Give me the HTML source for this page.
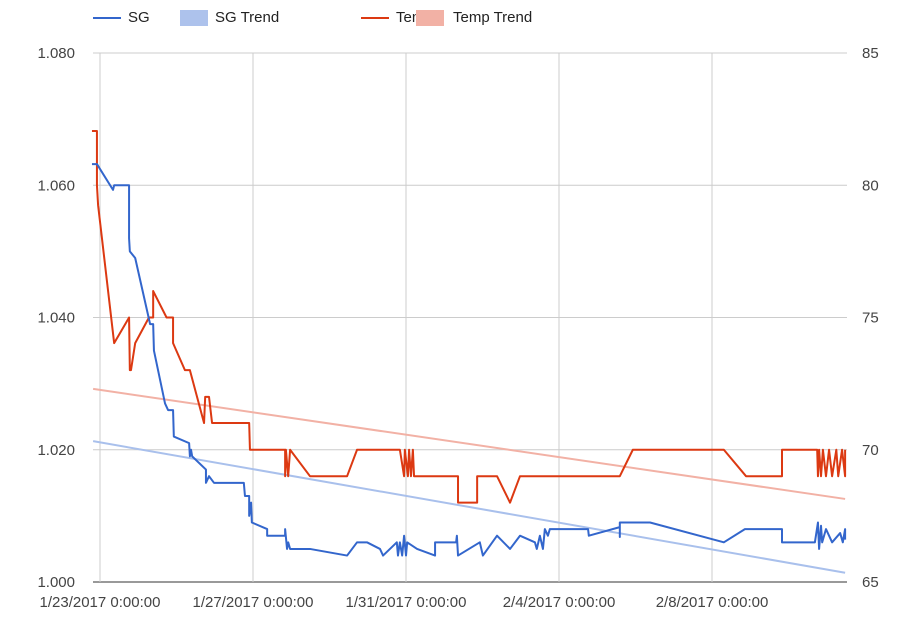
<!DOCTYPE html>
<html><head><meta charset="utf-8"><style>
body{margin:0;background:#fff;font-family:"Liberation Sans",Arial,sans-serif}
svg text{font-family:"Liberation Sans",Arial,sans-serif;fill:#444;font-size:15px}
</style></head><body>
<svg id="chart" width="902" height="625"></svg>
<script>
const xTickDays=[0,4,8,12,16];
const xTickLabels=["1/23/2017 0:00:00","1/27/2017 0:00:00","1/31/2017 0:00:00","2/4/2017 0:00:00","2/8/2017 0:00:00"];
const sgTicks=[1.000,1.020,1.040,1.060,1.080];
const tempTicks=[65,70,75,80,85];
const sgDays=[-0.21,-0.08,0.34,0.37,0.76,0.76,0.78,0.92,1.31,1.39,1.41,1.70,1.78,1.91,1.93,2.33,2.35,2.38,2.41,2.77,2.77,2.85,2.98,3.01,3.76,3.79,3.90,3.90,3.95,3.97,4.37,4.37,4.84,4.84,4.89,4.92,4.97,5.49,6.46,6.72,6.98,7.32,7.40,7.76,7.79,7.84,7.90,7.95,8.00,8.03,8.29,8.76,8.76,9.31,9.33,9.36,9.93,10.01,10.38,10.72,10.98,11.37,11.42,11.50,11.58,11.63,11.71,11.76,12.76,12.78,13.59,13.59,13.59,13.99,14.38,16.31,16.86,17.31,17.83,17.83,18.69,18.77,18.80,18.85,18.88,18.98,19.14,19.35,19.42,19.48,19.48];
const sgValues=[1.0632,1.0632,1.0593,1.060,1.060,1.052,1.050,1.049,1.039,1.039,1.035,1.027,1.026,1.026,1.022,1.021,1.019,1.020,1.019,1.017,1.015,1.016,1.015,1.015,1.015,1.013,1.013,1.010,1.012,1.009,1.008,1.007,1.007,1.008,1.005,1.006,1.005,1.005,1.004,1.006,1.006,1.005,1.004,1.006,1.004,1.006,1.004,1.007,1.004,1.006,1.005,1.004,1.006,1.006,1.007,1.004,1.006,1.004,1.007,1.005,1.007,1.006,1.005,1.007,1.005,1.008,1.007,1.008,1.008,1.007,1.0083,1.0068,1.009,1.009,1.009,1.006,1.008,1.008,1.008,1.006,1.006,1.009,1.005,1.0085,1.006,1.008,1.006,1.0074,1.006,1.008,1.0064];
const tempDays=[-0.21,-0.08,-0.08,-0.05,0.37,0.76,0.78,0.81,0.92,1.28,1.39,1.39,1.74,1.91,1.91,2.22,2.35,2.72,2.75,2.85,2.93,3.90,3.92,4.84,4.84,4.86,4.92,4.97,5.49,6.46,6.72,7.84,7.95,7.97,8.05,8.08,8.13,8.18,8.21,8.76,9.36,9.36,9.86,9.86,10.38,10.72,10.98,13.59,13.93,16.31,16.89,17.83,17.83,18.75,18.77,18.80,18.85,18.90,18.98,19.06,19.14,19.25,19.30,19.40,19.48,19.48];
const tempValues=[82.05,82.05,80.0,79.25,74.03,75.0,73.01,73.01,74.03,75.0,75.0,76.0,75.0,75.0,74.03,73.01,73.01,71.01,72.0,72.0,71.01,71.01,70.0,70.0,69.0,70.0,69.0,70.0,69.0,69.0,70.0,70.0,69.0,70.0,69.0,70.0,69.0,70.0,69.0,69.0,69.0,68.0,68.0,69.0,69.0,68.0,69.0,69.0,70.0,70.0,69.0,69.0,70.0,70.0,69.0,70.0,69.0,70.0,69.0,70.0,69.0,70.0,69.0,70.0,69.0,70.0];
const sgTrendDays=[-0.18,19.48];
const sgTrendValues=[1.0213,1.0014];
const tempTrendDays=[-0.18,19.48];
const tempTrendValues=[72.30,68.14];

const NS="http://www.w3.org/2000/svg";
const svg=document.getElementById('chart');
const L=93,R=847,T=53,B=582;
const xS=d=>100+d*38.25;
const ySG=v=>B-(v-1.0)/0.08*(B-T);
const yT=v=>B-(v-65)/20*(B-T);
function mk(tag,attrs,parent){const e=document.createElementNS(NS,tag);for(const k in attrs)e.setAttribute(k,attrs[k]);(parent||svg).appendChild(e);return e;}

const grid=mk('g',{});


sgTicks.forEach((v,i)=>{
  const y=ySG(v);
  const ln=mk('line',{x1:L,x2:R,y1:y,y2:y,stroke:i==0?'#333':'#ccc','stroke-width':1},grid);
  
  
  const t=mk('text',{x:75,y:y+5,'text-anchor':'end'});
  t.textContent=v.toFixed(3);
  
  
});
tempTicks.forEach(v=>{
  const t=mk('text',{x:862,y:yT(v)+5,'text-anchor':'start'});
  t.textContent=v;
  
  
});
xTickDays.forEach((d,i)=>{
  const x=xS(d);
  const ln=mk('line',{x1:x,x2:x,y1:T,y2:B,stroke:'#ccc','stroke-width':1},grid);
  
  
  const t=mk('text',{x:x,y:607,'text-anchor':'middle'});
  t.textContent=xTickLabels[i];
  
  
});
function line(days,vals,ys,color,w,name){
  const p=mk('polyline',{points:days.map((d,i)=>xS(d)+','+ys(vals[i])).join(' '),fill:'none',stroke:color,'stroke-width':w,'stroke-linejoin':'round'});
  
  
}
line(sgTrendDays,sgTrendValues,ySG,'#a9c0ec',2,'sg-trend-line');
line(tempTrendDays,tempTrendValues,yT,'#f2b1a5',2,'temp-trend-line');
line(tempDays,tempValues,yT,'#dc3912',2,'temp-line');
line(sgDays,sgValues,ySG,'#3366cc',2,'sg-line');
</script>
<div style="position:absolute;left:0;top:0;width:902px;height:36px;font-size:15px;color:#222">
  <div style="position:absolute;left:93px;top:9px"><span style="position:absolute;left:0;top:8px;width:28px;height:2px;background:#3366cc"></span><span style="position:absolute;left:35px;top:0;white-space:nowrap">SG</span></div>
  <div style="position:absolute;left:180px;top:9px"><span style="position:absolute;left:0;top:1px;width:28px;height:16px;background:#adc2ec"></span><span style="position:absolute;left:35px;top:0;white-space:nowrap">SG Trend</span></div>
  <div style="position:absolute;left:361px;top:9px"><span style="position:absolute;left:0;top:8px;width:28px;height:2px;background:#dc3912"></span><span style="position:absolute;left:35px;top:0;white-space:nowrap">Temp</span></div>
  <div style="position:absolute;left:416px;top:9px"><span style="position:absolute;left:0;top:1px;width:28px;height:16px;background:#f2b1a5"></span><span style="position:absolute;left:37px;top:0;white-space:nowrap">Temp Trend</span></div>
</div>
</body></html>
